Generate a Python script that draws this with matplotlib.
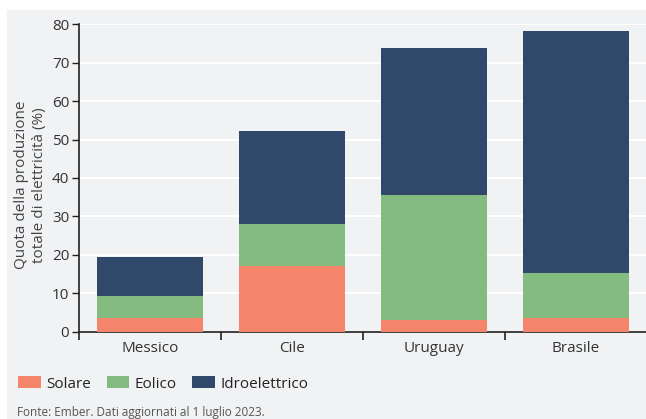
import matplotlib
matplotlib.use("Agg")
import matplotlib.pyplot as plt
from matplotlib.patches import Rectangle
import numpy as np

categories = ["Messico", "Cile", "Uruguay", "Brasile"]
solare = [3.6, 17.2, 3.0, 3.6]
eolico = [5.8, 10.7, 32.7, 11.8]
idro = [10.1, 24.4, 38.1, 62.9]
series_names = ["Solare", "Eolico", "Idroelettrico"]
colors = ["#f4846a", "#84bb80", "#30496b"]
yticks = [0, 10, 20, 30, 40, 50, 60, 70, 80]

plt.rcParams['font.family'] = ['Open Sans', 'DejaVu Sans']

W, H = 646, 419
fig = plt.figure(figsize=(W/100, H/100), dpi=100)
fig.patch.set_facecolor("white")
bg = "#f1f2f4"
fig.patches.append(Rectangle((7/W, 0), 1 - 7/W, 1 - 10/H, transform=fig.transFigure,
                             facecolor=bg, edgecolor="none", zorder=-10))

ax = fig.add_axes([79/W, 1 - 331.7/H, (647 - 79)/W, (331.7 - 24.3)/H])
ax.set_zorder(1)
ax.set_facecolor(bg)

x = np.arange(len(categories))
bottom = np.zeros(len(categories))
for name, vals, c in zip(series_names, [solare, eolico, idro], colors):
    ax.bar(x, vals, width=0.75, bottom=bottom, color=c, label=name,
           edgecolor="none", zorder=3)
    bottom += np.array(vals)

ax.set_xlim(-0.5, len(categories) - 0.5)
ax.set_ylim(0, 80)
ax.set_yticks(yticks)
ax.set_yticklabels([str(t) for t in yticks], fontsize=11, color="#333333")
ax.set_xticks(x)
ax.set_xticklabels(categories, fontsize=11, color="#333333")
ax.tick_params(axis='x', which='major', length=0, pad=7)
ax.set_xticks(np.arange(-0.5, len(categories)), minor=True)
ax.tick_params(axis='x', which='minor', length=6, width=1.2, color="#222222", direction='out')
ax.tick_params(axis='y', length=5, width=1, color="#222222", pad=2)

ax.grid(axis='y', color="white", linewidth=1.5, zorder=1)
ax.set_axisbelow(True)
for s in ["top", "right"]:
    ax.spines[s].set_visible(False)
for s in ["left", "bottom"]:
    ax.spines[s].set_color("#222222")
    ax.spines[s].set_linewidth(1.2)

ax.set_ylabel("Quota della produzione\ntotale di elettricità (%)", fontsize=11,
              color="#444444", linespacing=1.25)
ax.yaxis.set_label_coords((47 - 79) / (647 - 79), (331.7 - 185) / 307.4)

leg = fig.legend(loc="center left", bbox_to_anchor=(12/W, 1 - 384/H), ncol=3,
                 frameon=False, fontsize=11, handlelength=1.5, handleheight=0.8,
                 handletextpad=0.35, columnspacing=1.0, borderaxespad=0)
for t in leg.get_texts():
    t.set_color("#222222")

fig.text(17/W, 1 - 406/H, "Fonte: Ember. Dati aggiornati al 1 luglio 2023.",
         fontsize=8.5, color="#555555", va="top", ha="left")

fig.savefig("out.png", dpi=100, facecolor=fig.get_facecolor())
